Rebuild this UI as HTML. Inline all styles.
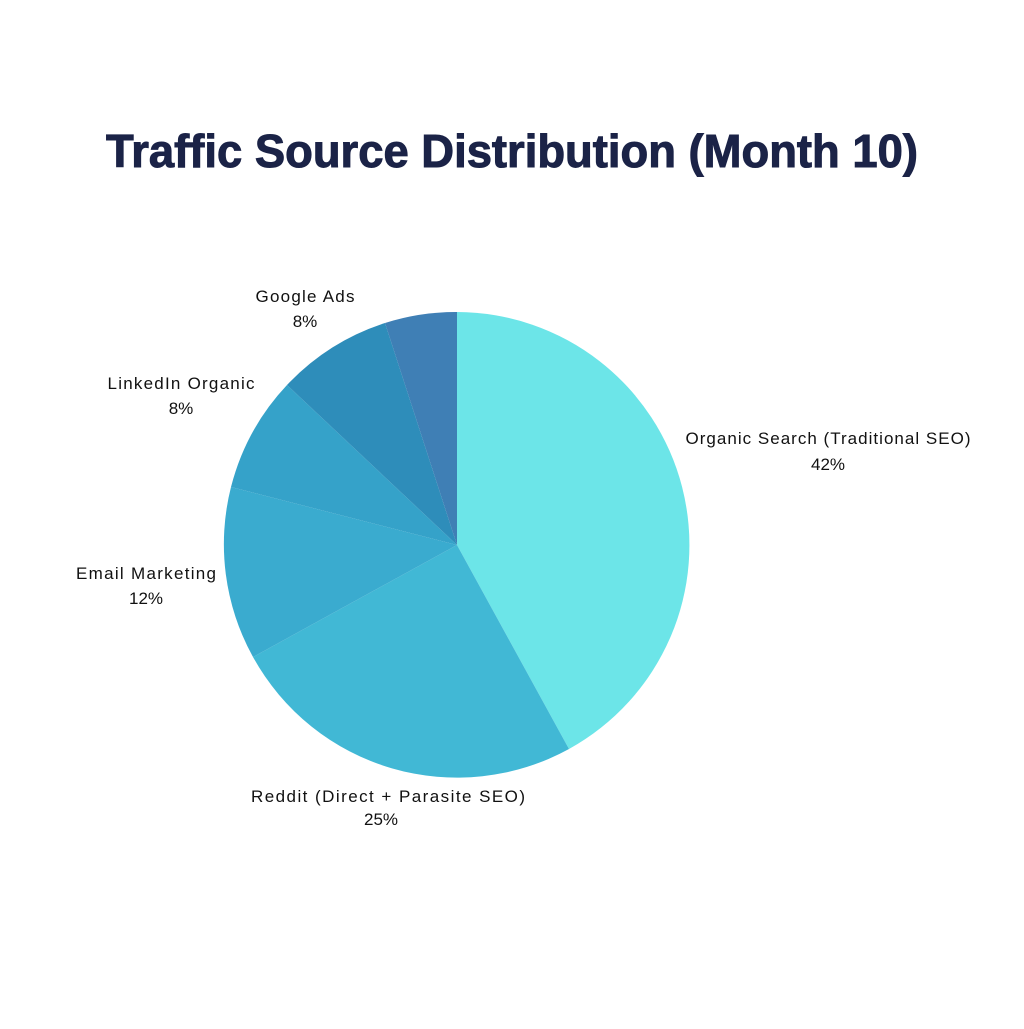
<!DOCTYPE html>
<html><head><meta charset="utf-8"><style>html,body{margin:0;padding:0;background:#fff}</style></head>
<body>
<svg width="1024" height="1024" viewBox="0 0 1024 1024" xmlns="http://www.w3.org/2000/svg">
<rect width="1024" height="1024" fill="#fff"/>
<text x="512" y="167" text-anchor="middle" font-family="Liberation Sans, sans-serif" font-weight="bold" font-size="46" fill="#1B2347" stroke="#1B2347" stroke-width="1" textLength="812" lengthAdjust="spacingAndGlyphs">Traffic Source Distribution (Month 10)</text>
<g stroke="none">
<path d="M457,545 L457,312 A233,233 0 0 1 569,749 Z" fill="#6CE5E8"/>
<path d="M457,545 L569,749 A233,233 0 0 1 253,657 Z" fill="#41B8D5"/>
<path d="M457,545 L253,657 A233,233 0 0 1 231,487 Z" fill="#3AABCF"/>
<path d="M457,545 L231,487 A233,233 0 0 1 287,385 Z" fill="#35A2C9"/>
<path d="M457,545 L287,385 A233,233 0 0 1 385,323 Z" fill="#2E8DBA"/>
<path d="M457,545 L385,323 A233,233 0 0 1 457,312 Z" fill="#3F7FB5"/>
</g>
<g font-family="Liberation Sans, sans-serif" font-size="17" fill="#111" text-anchor="middle" lengthAdjust="spacingAndGlyphs">
<text x="305" y="302" textLength="99">Google Ads</text><text x="305" y="327">8%</text>
<text x="181" y="389" textLength="147">LinkedIn Organic</text><text x="181" y="414">8%</text>
<text x="146" y="579" textLength="140">Email Marketing</text><text x="146" y="604">12%</text>
<text x="388" y="802" textLength="274">Reddit (Direct + Parasite SEO)</text><text x="381" y="825">25%</text>
<text x="828" y="444" textLength="285">Organic Search (Traditional SEO)</text><text x="828" y="470">42%</text>
</g>
</svg>
</body></html>
